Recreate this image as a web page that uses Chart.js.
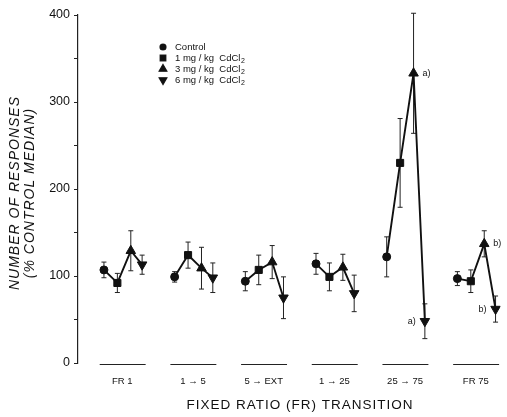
<!DOCTYPE html>
<html>
<head>
<meta charset="utf-8">
<script src="https://cdn.jsdelivr.net/npm/chart.js@4/dist/chart.umd.min.js"></script>
<style>
  html, body { margin: 0; padding: 0; background: #fff; }
  #wrap { width: 507px; height: 417px; }
</style>
</head>
<body>
<div id="wrap"><canvas id="respChart" width="507" height="417"></canvas></div>
<script>
// transitions (x groups)
var groups = ['FR 1', '1 \u2192 5', '5 \u2192 EXT', '1 \u2192 25', '25 \u2192 75', 'FR 75'];
// series names
var seriesNames = ['Control', '1 mg / kg  CdCl', '3 mg / kg  CdCl', '6 mg / kg  CdCl'];
// % control median
var control    = [107,  99,  94, 114, 122,  97];
var controlErr = [  9,   6,  11,  12,  23,   8];
var mg1        = [ 92, 124, 107,  99, 230,  94];
var mg1Err     = [ 11,  15,  17,  16,  51,  13];
var mg3        = [129, 109, 116, 110, 333, 137];
var mg3Err     = [ 23,  24,  19,  15,  69,  15];
var mg6        = [113,  98,  75,  80,  48,  62];
var mg6Err     = [ 11,  17,  24,  21,  20,  15];
var yTicks = [0, 100, 200, 300, 400];
// significance marks: group, series, text, side
var marks = [
  { g: 4, s: 2, text: 'a)', side: 'right' },
  { g: 4, s: 3, text: 'a)', side: 'left' },
  { g: 5, s: 2, text: 'b)', side: 'right' },
  { g: 5, s: 3, text: 'b)', side: 'left' }
];

var values = [control, mg1, mg3, mg6];
var errors = [controlErr, mg1Err, mg3Err, mg6Err];
var offsets = [-0.26, -0.07, 0.12, 0.28];
var styles = ['circle', 'rect', 'triangle', 'triangle'];
var rotations = [0, 0, 0, 180];
var radii = [4, 5, 5.5, 5.5];
var FONT = '"Liberation Sans", Arial, sans-serif';

var datasets = groups.map(function(name, g) {
    return {
        label: name,
        data: values.map(function(arr, s) {
            return { x: g + offsets[s], y: arr[g] };
        }),
        showLine: true,
        borderColor: '#111',
        borderWidth: 1.9,
        pointStyle: styles,
        pointRotation: rotations,
        pointRadius: radii,
        pointHoverRadius: radii,
        pointBackgroundColor: '#111',
        pointBorderColor: '#111',
        pointBorderWidth: 1
    };
});

var extras = {
    id: 'extras',
    beforeDatasetsDraw: function(chart) {
        var ctx = chart.ctx, xs = chart.scales.x, ys = chart.scales.y;
        ctx.save();
        ctx.strokeStyle = '#222';
        ctx.lineWidth = 1;
        for (var g = 0; g < groups.length; g++) {
            for (var s = 0; s < values.length; s++) {
                var x = xs.getPixelForValue(g + offsets[s]);
                var top = ys.getPixelForValue(values[s][g] + errors[s][g]);
                var bot = ys.getPixelForValue(values[s][g] - errors[s][g]);
                ctx.beginPath();
                ctx.moveTo(x, top); ctx.lineTo(x, bot);
                ctx.moveTo(x - 2.5, top); ctx.lineTo(x + 2.5, top);
                ctx.moveTo(x - 2.5, bot); ctx.lineTo(x + 2.5, bot);
                ctx.stroke();
            }
        }
        ctx.restore();
    },
    afterDraw: function(chart) {
        var ctx = chart.ctx, xs = chart.scales.x, ys = chart.scales.y;
        var base = ys.getPixelForValue(0);
        ctx.save();
        ctx.fillStyle = '#111';
        ctx.strokeStyle = '#222';
        // group underlines and labels
        ctx.lineWidth = 1.2;
        ctx.font = '9.5px ' + FONT;
        ctx.textAlign = 'center';
        ctx.textBaseline = 'middle';
        for (var g = 0; g < groups.length; g++) {
            var l = xs.getPixelForValue(g - 0.32), r = xs.getPixelForValue(g + 0.33);
            ctx.beginPath();
            ctx.moveTo(l, base + 1.5); ctx.lineTo(r, base + 1.5);
            ctx.stroke();
            ctx.fillText(groups[g], xs.getPixelForValue(g), base + 18);
        }
        // x title
        ctx.font = '13.5px ' + FONT;
        ctx.letterSpacing = '1px';
        ctx.fillText('FIXED RATIO (FR) TRANSITION', 300, base + 42);
        // y title
        ctx.save();
        ctx.translate(0, 193);
        ctx.rotate(-Math.PI / 2);
        ctx.font = 'italic 14px ' + FONT;
        ctx.fillText('NUMBER OF RESPONSES', 0, 15);
        ctx.fillText('(% CONTROL MEDIAN)', 0, 30);
        ctx.restore();
        ctx.letterSpacing = '0px';
        // significance marks
        ctx.font = '9px ' + FONT;
        marks.forEach(function(m) {
            var x = xs.getPixelForValue(m.g + offsets[m.s]);
            var y = ys.getPixelForValue(values[m.s][m.g]);
            ctx.textAlign = m.side === 'right' ? 'left' : 'right';
            ctx.fillText(m.text, m.side === 'right' ? x + 9 : x - 9, y);
        });
        // legend
        var lx = 163, ly = 47;
        ctx.textAlign = 'left';
        for (var s = 0; s < seriesNames.length; s++) {
            var yy = ly + s * 11;
            Chart.helpers.drawPoint(ctx, {
                pointStyle: styles[s], rotation: rotations[s],
                radius: radii[s] - 1, borderWidth: 1
            }, lx, yy);
            ctx.fill();
            ctx.font = '9.5px ' + FONT;
            ctx.fillText(seriesNames[s], lx + 12, yy);
            if (s > 0) {
                var w = ctx.measureText(seriesNames[s]).width;
                ctx.font = '7px ' + FONT;
                ctx.fillText('2', lx + 12 + w + 0.5, yy + 3);
            }
        }
        ctx.restore();
    }
};

var ctx = document.getElementById('respChart').getContext('2d');
var myChart = new Chart(ctx, {
    type: 'scatter',
    data: { datasets: datasets },
    options: {
        responsive: false,
        animation: false,
        layout: { padding: { top: 15, right: 0, bottom: 54, left: 0 } },
        plugins: { legend: { display: false }, tooltip: { enabled: false } },
        scales: {
            x: { type: 'linear', display: false, min: -0.627, max: 5.35 },
            y: {
                min: 0,
                max: 400,
                afterFit: function(scale) { scale.width = 78; },
                afterBuildTicks: function(scale) {
                    scale.ticks = [0, 50, 100, 150, 200, 250, 300, 350, 400].map(function(v) { return { value: v }; });
                },
                ticks: {
                    callback: function(v) { return yTicks.indexOf(v) >= 0 ? v : ''; },
                    color: '#111',
                    font: { family: FONT, size: 12.5 },
                    padding: 4
                },
                grid: { drawOnChartArea: false, drawTicks: true, tickLength: 4, color: '#222' },
                border: { color: '#222', width: 1.2 }
            }
        }
    },
    plugins: [extras]
});
</script>
</body>
</html>
